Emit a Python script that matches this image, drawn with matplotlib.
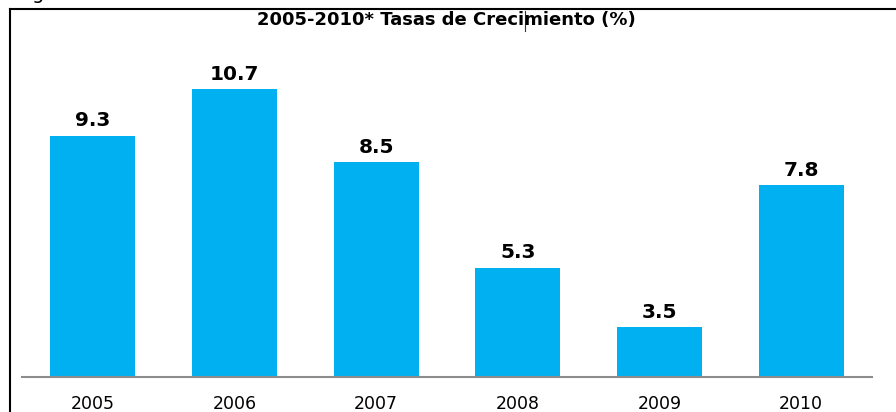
import matplotlib.pyplot as plt
from matplotlib.lines import Line2D

years = ['2005', '2006', '2007', '2008', '2009', '2010']
tasas = [9.3, 10.7, 8.5, 5.3, 3.5, 7.8]

fig = plt.figure(figsize=(8.96, 4.12), dpi=100)
# axes: x 22..872 px, y (from top) 30..377 px
ax = fig.add_axes([22/896, 1 - 377/412, 850/896, 347/412])

x = range(len(years))
bars = ax.bar(x, tasas, width=0.6, color='#00B0F0', bottom=0)
ax.set_xlim(-0.5, 5.5)
ax.set_ylim(2, 2 + 347/33.06)

for xi, v in zip(x, tasas):
    ax.annotate(f'{v}', (xi, v), xytext=(0, 4), textcoords='offset points',
                ha='center', va='bottom', fontsize=14.5, fontweight='bold')

ax.set_xticks(list(x))
ax.set_xticklabels(years, fontsize=12.5)
ax.tick_params(axis='x', length=0, pad=13)
ax.set_yticks([])
for s in ['top', 'right', 'left']:
    ax.spines[s].set_visible(False)
ax.spines['bottom'].set_color('#8c8c8c')
ax.spines['bottom'].set_linewidth(1.5)

fig.text(446/896, 1 - 20/412, '2005-2010* Tasas de Crecimiento (%)',
         ha='center', va='center', fontsize=13, fontweight='bold')
# cursor mark inside the title
fig.add_artist(Line2D([525/896, 525/896], [1 - 11/412, 1 - 31/412], color='#333333', lw=0.8))

# cut-off caption above the frame
fig.text(38/896, 1 + 1/412, 'g', ha='center', va='baseline', fontsize=14)

# outer frame (left and top)
fig.add_artist(Line2D([10/896, 10/896], [0, 1 - 9/412], color='black', lw=1.5))
fig.add_artist(Line2D([10/896, 1], [1 - 9/412, 1 - 9/412], color='black', lw=1.5))

fig.savefig('out.png', dpi=100)
